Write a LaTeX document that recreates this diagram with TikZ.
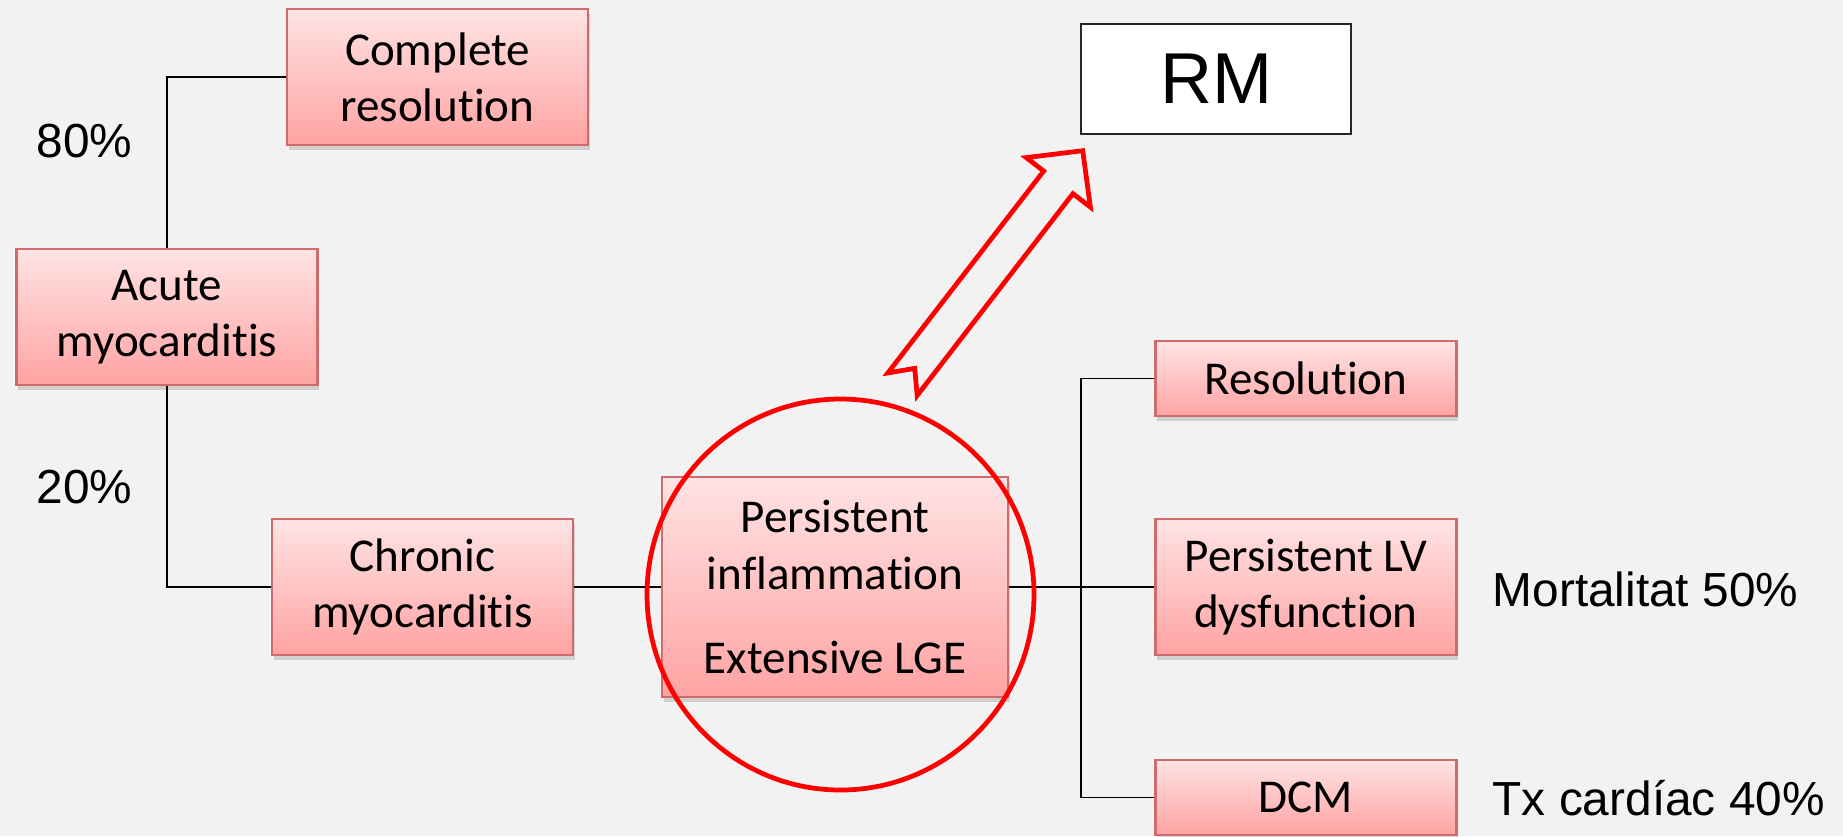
\documentclass[tikz,border=0pt]{standalone}
\usepackage{fontspec}
\setmainfont{Liberation Sans}
\newfontfamily\carlito[Ligatures=NoCommon]{Carlito}
\usetikzlibrary{shadows}
\definecolor{fondo}{HTML}{F2F2F2}
\definecolor{rosaclaro}{HTML}{FFE3E3}
\definecolor{rosafuerte}{HTML}{FFA3A3}
\definecolor{bordero}{HTML}{CF6B6B}

\begin{document}
\begin{tikzpicture}[
      caja/.style={draw=bordero, line width=0.8pt, top color=rosaclaro, bottom color=rosafuerte,
                   align=center, font=\carlito\fontsize{13.4}{16}\selectfont,
                   minimum width=3.01cm, minimum height=1.36cm, inner sep=2pt,
                   drop shadow={opacity=0.3, shadow xshift=0.5pt, shadow yshift=-1.3pt}},
      rama/.style={draw=black, line width=0.5pt},
      etiq/.style={font=\fontsize{13.6}{16}\selectfont, anchor=base west, inner sep=0pt},
      resalte/.style={draw=red, line width=1.35pt, line join=miter}]
    \path[use as bounding box, fill=fondo] (0,0) rectangle (18.43,-8.36);

    \node[caja] (complete) at (4.375,-0.77) {Complete\\ resolution};
    \node[caja] (acute) at (1.67,-3.17) {Acute\\ myocarditis};
    \node[caja] (chronic) at (4.225,-5.87) {Chronic\\ myocarditis};
    \node[caja, minimum width=3.46cm, minimum height=2.2cm] (persist) at (8.35,-5.87)
         {Persistent\\ inflammation\\[8pt] Extensive LGE};
    \node[caja, minimum height=0.75cm] (resol) at (13.06,-3.785) {Resolution};
    \node[caja] (lvdys) at (13.06,-5.87) {Persistent LV\\ dysfunction};
    \node[caja, minimum height=0.75cm] (dcm) at (13.06,-7.975) {DCM};
    \node[draw=black!85, fill=white, line width=0.8pt, minimum width=2.7cm, minimum height=1.1cm,
          font=\fontsize{20.5}{24}\selectfont] (rm) at (12.16,-0.79) {RM};

    \node[etiq] (p80) at (0.36,-1.57) {80\%};
    \node[etiq] (p20) at (0.36,-5.03) {20\%};
    \node[etiq] (mort) at (14.92,-6.06) {Mortalitat 50\%};
    \node[etiq] (tx) at (14.92,-8.15) {Tx cardíac 40\%};

    \coordinate (tronco) at (10.81,-5.87);
    \draw[rama] (acute.north) |- (complete.west);
    \draw[rama] (acute.south) |- (chronic.west);
    \draw[rama] (chronic) -- (persist);
    \draw[rama] (persist.east) -- (lvdys.west);
    \draw[rama] (resol.west) -| (tronco) |- (dcm.west);

    % circle and hollow arrow pointing to RM
    \draw[resalte] (8.405,-5.945) ellipse (1.935 and 1.955);
    \coordinate (flecha) at (9.025,-3.842);
    \begin{scope}[shift={(flecha)}, rotate=52.34]
      \draw[resalte] (0,0.185) -- (2.55,0.185) -- (2.55,0.405) -- (2.95,0)
            -- (2.55,-0.405) -- (2.55,-0.185) -- (0,-0.185) -- (0.2,0) -- cycle;
    \end{scope}
  \end{tikzpicture}
\end{document}
